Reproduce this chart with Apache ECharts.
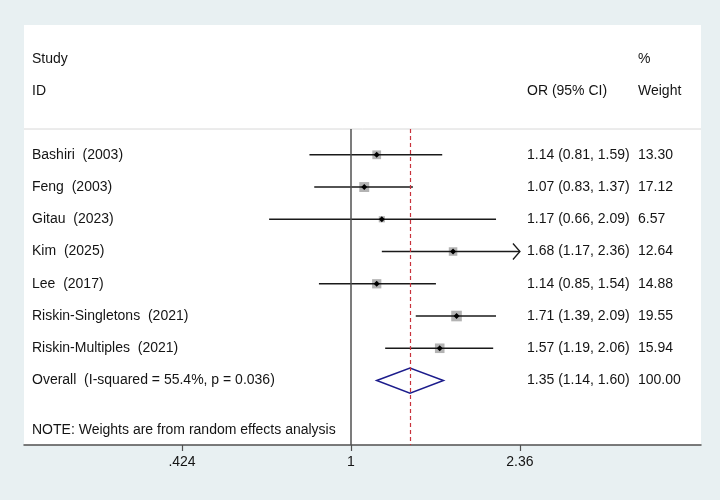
<!DOCTYPE html>
<html>
<head>
<meta charset="utf-8">
<script src="https://cdn.jsdelivr.net/npm/echarts@6.0.0/dist/echarts.min.js"></script>
<style>
  html, body { margin: 0; padding: 0; background: #e8f0f2; }
  #chart { width: 720px; height: 500px; }
</style>
</head>
<body>
<div id="chart"></div>
<script>
// study rows
const studies = ['Bashiri  (2003)', 'Feng  (2003)', 'Gitau  (2023)', 'Kim  (2025)',
    'Lee  (2017)', 'Riskin-Singletons  (2021)', 'Riskin-Multiples  (2021)'];
const orEst = [1.14, 1.07, 1.17, 1.68, 1.14, 1.71, 1.57];
const ciLow = [0.81, 0.83, 0.66, 1.17, 0.85, 1.39, 1.19];
const ciHigh = [1.59, 1.37, 2.09, 2.36, 1.54, 2.09, 2.06];
const weights = [13.30, 17.12, 6.57, 12.64, 14.88, 19.55, 15.94];

// pooled estimate
const overallLabel = 'Overall  (I-squared = 55.4%, p = 0.036)';
const overallEst = [1.35];
const overallLow = [1.14];
const overallHigh = [1.60];
const overallWeight = [100.00];

const noteText = 'NOTE: Weights are from random effects analysis';

// x axis (log odds ratio)
const tickValues = [0.424, 1, 2.36];
const tickLabels = ['.424', '1', '2.36'];
const xMin = 0.19, xMax = 5.92;

const FONT = '"Liberation Sans", Arial, Helvetica, sans-serif';
const COL_LABEL = 32, COL_CI = 527, COL_W = 638;

function fmt(v) { return v.toFixed(2); }
function ln(v) { return Math.log(v); }

var studyData = studies.map(function (s, i) {
    return [i + 1, ln(ciLow[i]), ln(orEst[i]), ln(ciHigh[i]), weights[i]];
});
var overallRow = studies.length + 1;
var overallData = [[overallRow, ln(overallLow[0]), ln(overallEst[0]), ln(overallHigh[0]), overallWeight[0]]];

function txt(x, y, s) {
    return {
        type: 'text', x: x, y: y, silent: true,
        style: { text: s, fill: '#141414', font: '14px ' + FONT, textVerticalAlign: 'middle' }
    };
}

function renderStudy(params, api) {
    var i = params.dataIndex;
    var r = api.value(0);
    var pLo = api.coord([api.value(1), r]);
    var pEst = api.coord([api.value(2), r]);
    var pHi = api.coord([api.value(3), r]);
    var sz = 2.4 * Math.sqrt(api.value(4));
    var y = pEst[1];
    var children = [
        { type: 'rect', shape: { x: pEst[0] - sz / 2, y: y - sz / 2, width: sz, height: sz },
          style: { fill: '#b3b3b3' } },
        { type: 'line', shape: { x1: pLo[0], y1: y, x2: pHi[0], y2: y },
          style: { stroke: '#1a1a1a', lineWidth: 1.5 } },
        { type: 'polygon', shape: { points: [[pEst[0] - 3, y], [pEst[0], y - 3], [pEst[0] + 3, y], [pEst[0], y + 3]] },
          style: { fill: '#000' } },
        txt(COL_LABEL, y, studies[i]),
        txt(COL_CI, y, fmt(orEst[i]) + ' (' + fmt(ciLow[i]) + ', ' + fmt(ciHigh[i]) + ')'),
        txt(COL_W, y, fmt(weights[i]))
    ];
    // arrow where CI runs off the labelled range
    if (ciHigh[i] >= tickValues[tickValues.length - 1]) {
        children.push({ type: 'polyline',
            shape: { points: [[pHi[0] - 7, y - 8], [pHi[0], y], [pHi[0] - 7, y + 8]] },
            style: { stroke: '#1a1a1a', lineWidth: 1.3, fill: null } });
    }
    return { type: 'group', children: children };
}

function renderOverall(params, api) {
    var r = api.value(0);
    var pLo = api.coord([api.value(1), r]);
    var pEst = api.coord([api.value(2), r]);
    var pHi = api.coord([api.value(3), r]);
    var top = api.coord([api.value(2), r - 0.39]);
    var bot = api.coord([api.value(2), r + 0.39]);
    var y = pEst[1];
    return { type: 'group', children: [
        { type: 'polygon', shape: { points: [pLo, top, pHi, bot] },
          style: { fill: null, stroke: '#1c1c8c', lineWidth: 1.5 } },
        txt(COL_LABEL, y, overallLabel),
        txt(COL_CI, y, fmt(overallEst[0]) + ' (' + fmt(overallLow[0]) + ', ' + fmt(overallHigh[0]) + ')'),
        txt(COL_W, y, fmt(overallWeight[0]))
    ]};
}

var chart = echarts.init(document.getElementById('chart'), null, { renderer: 'canvas' });

var option = {
    animation: false,
    backgroundColor: '#e8f0f2',
    textStyle: { fontFamily: FONT },
    grid: { left: 24, right: 19, top: 129, bottom: 55 },
    xAxis: {
        type: 'value',
        min: ln(xMin), max: ln(xMax),
        splitLine: { show: false },
        axisLine: { lineStyle: { color: '#505050', width: 1.5 } },
        axisTick: { customValues: tickValues.map(ln), length: 6, lineStyle: { color: '#505050', width: 1.2 } },
        axisLabel: {
            customValues: tickValues.map(ln),
            color: '#141414', fontSize: 14, margin: 10,
            formatter: function (v) {
                var k = tickValues.findIndex(function (t) { return Math.abs(ln(t) - v) < 1e-6; });
                return k >= 0 ? tickLabels[k] : '';
            }
        }
    },
    yAxis: { type: 'value', inverse: true, min: 0.2, max: 10, show: false },
    graphic: [
        { type: 'rect', z: -10, silent: true, shape: { x: 24, y: 25, width: 677, height: 420 }, style: { fill: '#ffffff' } },
        { type: 'line', silent: true, shape: { x1: 24, y1: 129, x2: 701, y2: 129 }, style: { stroke: '#d8d8d8', lineWidth: 1 } },
        txt(COL_LABEL, 59, 'Study'),
        txt(COL_LABEL, 91, 'ID'),
        txt(COL_CI, 91, 'OR (95% CI)'),
        txt(COL_W, 59, '%'),
        txt(COL_W, 91, 'Weight'),
        txt(COL_LABEL, 430, noteText)
    ],
    series: [
        {
            type: 'custom', name: 'studies',
            renderItem: renderStudy,
            encode: { x: [1, 2, 3], y: 0 },
            data: studyData,
            clip: false, z: 3
        },
        {
            type: 'custom', name: 'overall',
            renderItem: renderOverall,
            encode: { x: [1, 2, 3], y: 0 },
            data: overallData,
            clip: false, z: 3,
            markLine: {
                silent: true, symbol: 'none', label: { show: false },
                data: [
                    { xAxis: 0, lineStyle: { color: '#505050', width: 1.5, type: 'solid' } },
                    { xAxis: ln(overallEst[0]), lineStyle: { color: '#c8323c', width: 1.2, type: [4, 3] } }
                ]
            }
        }
    ]
};

chart.setOption(option);
</script>
</body>
</html>
